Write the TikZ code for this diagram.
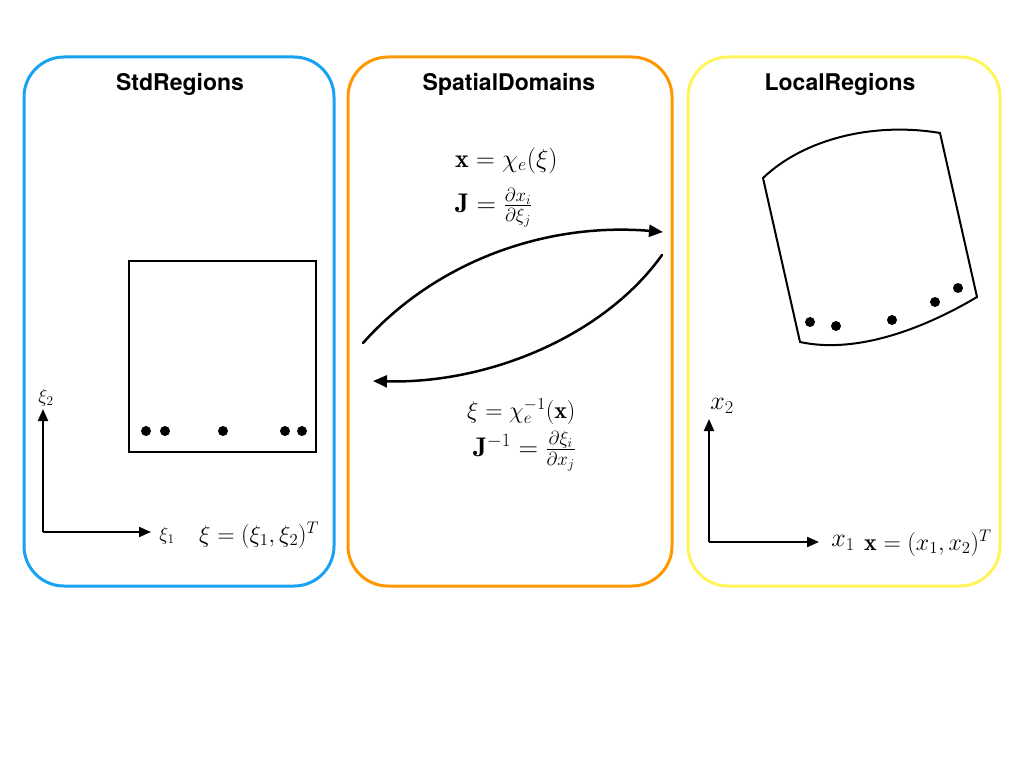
\RequirePackage{fix-cm}
\documentclass[tikz,border=0pt]{standalone}
\usepackage{fontspec}
\newfontfamily\titlefont{TeX Gyre Heros}
\usetikzlibrary{arrows.meta}
\definecolor{stdblue}{RGB}{24,162,242}
\definecolor{sporange}{RGB}{255,152,0}
\definecolor{locyellow}{RGB}{255,245,90}
\tikzset{
  panel/.style={line width=3pt, rounded corners=40pt},
  paneltitle/.style={font=\titlefont\fontsize{23}{26}\selectfont\bfseries, inner sep=0pt},
  elem/.style={line width=2pt, line join=miter},
  axis/.style={line width=2pt, -{Triangle[length=12pt,width=10pt]}},
  maparrow/.style={line width=2.5pt, line cap=round, -{Triangle[length=14pt,width=12pt]}},
  qdot/.style={circle, fill=black, inner sep=0pt, minimum size=10pt},
  mlbl/.style={font=\fontsize{24}{28}\selectfont, inner sep=0pt},
  flbl/.style={font=\fontsize{27}{31}\selectfont, inner sep=0pt},
  slbl/.style={font=\fontsize{19}{23}\selectfont, inner sep=0pt},
}
\begin{document}
\begin{tikzpicture}[x=1pt,y=-1pt]
\useasboundingbox (0,0) rectangle (1024,768);
% panels
\draw[panel, stdblue] (24,57) rectangle (334,586);
\draw[panel, sporange] (348,57) rectangle (672,586);
\draw[panel, locyellow] (688,57) rectangle (1000,586);
\node[paneltitle, anchor=base] (t1) at (180,90) {StdRegions};
\node[paneltitle, anchor=base] (t2) at (509,90) {SpatialDomains};
\node[paneltitle, anchor=base] (t3) at (840,90) {LocalRegions};

% ---- StdRegions
\draw[elem] (129,261) rectangle (316,452);
\foreach \i/\x in {1/146,2/165,3/223,4/285,5/302}
  \node[qdot] (sd\i) at (\x,431) {};
\coordinate (so) at (43,532);
\coordinate (sy) at (43,409);
\coordinate (sx) at (151,532);
\draw[axis] (so) -- (sy);
\draw[axis] (so) -- (sx);
\node[slbl] (xi2) at (46,398) {$\xi_2$};
\node[slbl] (xi1) at (167,536) {$\xi_1$};
\node[mlbl, anchor=base west] (xidef) at (199,542) {$\xi=(\xi_1,\xi_2)^T$};

% ---- SpatialDomains
\node[mlbl, font=\fontsize{26}{30}\selectfont, anchor=base west] (fwd1) at (455,167) {$\mathbf{x}=\chi_e(\xi)$};
\node[flbl, anchor=base west] (fwd2) at (455,212) {$\mathbf{J}=\frac{\partial x_i}{\partial \xi_j}$};
\node[mlbl, anchor=base west] (inv1) at (467,418) {$\xi=\chi_e^{-1}(\mathbf{x})$};
\node[flbl, anchor=base west] (inv2) at (473,456) {$\mathbf{J}^{-1}=\frac{\partial \xi_i}{\partial x_j}$};
\coordinate (a1s) at (363,343);
\coordinate (a1e) at (663,232);
\coordinate (a2s) at (662,255);
\coordinate (a2e) at (373,381);
\draw[maparrow] (a1s) .. controls (435,262) and (545,222) .. (a1e);
\draw[maparrow] (a2s) .. controls (605,335) and (490,384) .. (a2e);

% ---- LocalRegions
\coordinate (q1) at (763,178);
\coordinate (q2) at (940,133);
\coordinate (q3) at (977,297);
\coordinate (q4) at (800,342);
\draw[elem] (q1) .. controls (805,138) and (875,122) .. (q2) -- (q3)
  .. controls (930,325) and (860,355) .. (q4) -- cycle;
\foreach \i/\x/\y in {1/810/322,2/836/326,3/892/320,4/935/302,5/958/288}
  \node[qdot] (ld\i) at (\x,\y) {};
\coordinate (lo) at (709,542);
\coordinate (ly) at (709,419);
\coordinate (lx) at (819,542);
\draw[axis] (lo) -- (ly);
\draw[axis] (lo) -- (lx);
\node[font=\fontsize{26}{30}\selectfont, inner sep=0pt] (x2) at (722,406) {$x_2$};
\node[font=\fontsize{26}{30}\selectfont, inner sep=0pt] (x1) at (843,543) {$x_1$};
\node[mlbl, anchor=base west] (xdef) at (864,550) {$\mathbf{x}=(x_1,x_2)^T$};
\end{tikzpicture}
\end{document}
